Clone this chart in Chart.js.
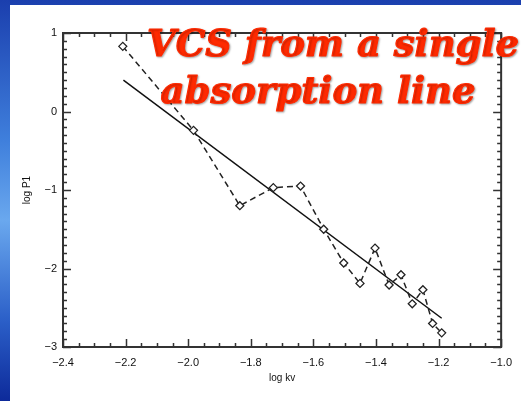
<!DOCTYPE html>
<html>
<head>
<meta charset="utf-8">
<title>VCS from a single absorption line</title>
<script src="https://cdn.jsdelivr.net/npm/chart.js@4.4.1/dist/chart.umd.min.js"></script>
<style>
    html, body { margin: 0; padding: 0; }
    body {
        width: 521px; height: 401px; overflow: hidden; position: relative;
        background: linear-gradient(180deg, #1b3fae 0%, #3f7fdc 35%, #6aa8ee 55%, #2b5fc8 80%, #0d2a9a 100%);
    }
    #panel { position: absolute; left: 10px; top: 5px; width: 511px; height: 396px; background: #fff; }
    #wrap { position: absolute; left: 0; top: 0; width: 521px; height: 401px; }
</style>
</head>
<body>
<div id="panel"></div>
<div id="wrap"><canvas id="vcsChart" width="521" height="401"></canvas></div>
<script>
// log kv / log P1 samples, joined by the dashed line
const logK = [-2.209, -1.983, -1.835, -1.728, -1.641, -1.567, -1.503, -1.451, -1.403, -1.358, -1.320, -1.284, -1.250, -1.219, -1.190];
const logP = [0.83, -0.24, -1.20, -0.97, -0.95, -1.50, -1.93, -2.19, -1.74, -2.21, -2.08, -2.45, -2.27, -2.70, -2.82];

// straight power-law fit
const fitK = [-2.207, -1.190];
const fitP = [0.40, -2.634];

const titleLines = ['VCS from a single', 'absorption line'];

function minus(v, digits) {
    return v.toFixed(digits).replace('-', '\u2212');
}

// box frame with inward major/minor ticks on all four sides
const frameTicks = {
    id: 'frameTicks',
    afterDraw(chart) {
        const { ctx, chartArea: a, scales: { x, y } } = chart;
        ctx.save();
        ctx.strokeStyle = '#333';
        ctx.lineWidth = 2;
        ctx.strokeRect(a.left, a.top, a.right - a.left, a.bottom - a.top);
        ctx.lineWidth = 1.5;
        ctx.beginPath();
        for (let i = 0; i <= 28; i++) {
            const v = x.min + i * 0.05;
            const px = Math.round(x.getPixelForValue(v)) + 0.5;
            const len = i % 4 === 0 ? 8 : 4;
            ctx.moveTo(px, a.bottom); ctx.lineTo(px, a.bottom - len);
            ctx.moveTo(px, a.top); ctx.lineTo(px, a.top + len);
        }
        for (let i = 0; i <= 40; i++) {
            const v = y.min + i * 0.1;
            const py = Math.round(y.getPixelForValue(v)) + 0.5;
            const len = i % 10 === 0 ? 8 : 4;
            ctx.moveTo(a.left, py); ctx.lineTo(a.left + len, py);
            ctx.moveTo(a.right, py); ctx.lineTo(a.right - len, py);
        }
        ctx.stroke();
        ctx.restore();
    }
};

// red slide heading drawn over the plot
const heading = {
    id: 'heading',
    afterDraw(chart) {
        const ctx = chart.ctx;
        ctx.save();
        ctx.font = 'italic bold 37px "DejaVu Serif"';
        ctx.textAlign = 'center';
        ctx.textBaseline = 'alphabetic';
        ctx.fillStyle = '#ff2a00';
        ctx.strokeStyle = '#ff2a00';
        ctx.lineWidth = 1.2;
        ctx.lineJoin = 'round';
        ctx.shadowColor = 'rgba(0,0,0,0.3)';
        ctx.shadowOffsetX = 1;
        ctx.shadowOffsetY = 1;
        ctx.shadowBlur = 2;
        const rows = [[333, 56], [318, 103]];
        titleLines.forEach((t, i) => {
            ctx.fillText(t, rows[i][0], rows[i][1]);
            ctx.strokeText(t, rows[i][0], rows[i][1]);
        });
        ctx.restore();
    }
};

new Chart(document.getElementById('vcsChart'), {
    type: 'scatter',
    data: {
        datasets: [{
            data: logK.map((k, i) => ({ x: k, y: logP[i] })),
            showLine: true,
            borderColor: '#222',
            borderWidth: 1.5,
            borderDash: [6, 4],
            pointStyle: 'rectRot',
            pointRadius: 4,
            pointBorderWidth: 1.3,
            pointBorderColor: '#222',
            pointBackgroundColor: '#fff'
        }, {
            data: fitK.map((k, i) => ({ x: k, y: fitP[i] })),
            showLine: true,
            borderColor: '#111',
            borderWidth: 1.5,
            pointRadius: 0
        }]
    },
    options: {
        responsive: false,
        animation: false,
        layout: { padding: { top: 33, right: 15, bottom: 17, left: 0 } },
        plugins: { legend: { display: false }, tooltip: { enabled: false } },
        scales: {
            x: {
                min: -2.4, max: -1.0,
                afterFit(scale) { scale.height = 37; },
                grid: { display: false, drawTicks: false },
                border: { display: false },
                ticks: {
                    stepSize: 0.2, padding: 9, color: '#111',
                    font: { family: 'Liberation Sans', size: 11 },
                    callback: v => minus(v, 1)
                },
                title: {
                    display: true, text: 'log kv', color: '#111',
                    font: { family: 'Liberation Sans', size: 10 },
                    padding: { top: 4, bottom: 0 }
                }
            },
            y: {
                min: -3, max: 1,
                afterFit(scale) { scale.width = 63; },
                grid: { display: false, drawTicks: false },
                border: { display: false },
                ticks: {
                    stepSize: 1, padding: 6, color: '#111',
                    font: { family: 'Liberation Sans', size: 11 },
                    callback: v => minus(v, 0)
                },
                title: {
                    display: true, text: 'log P1', color: '#111',
                    font: { family: 'Liberation Sans', size: 10 },
                    padding: { top: 21, bottom: 0 }
                }
            }
        }
    },
    plugins: [frameTicks, heading]
});
</script>
</body>
</html>
